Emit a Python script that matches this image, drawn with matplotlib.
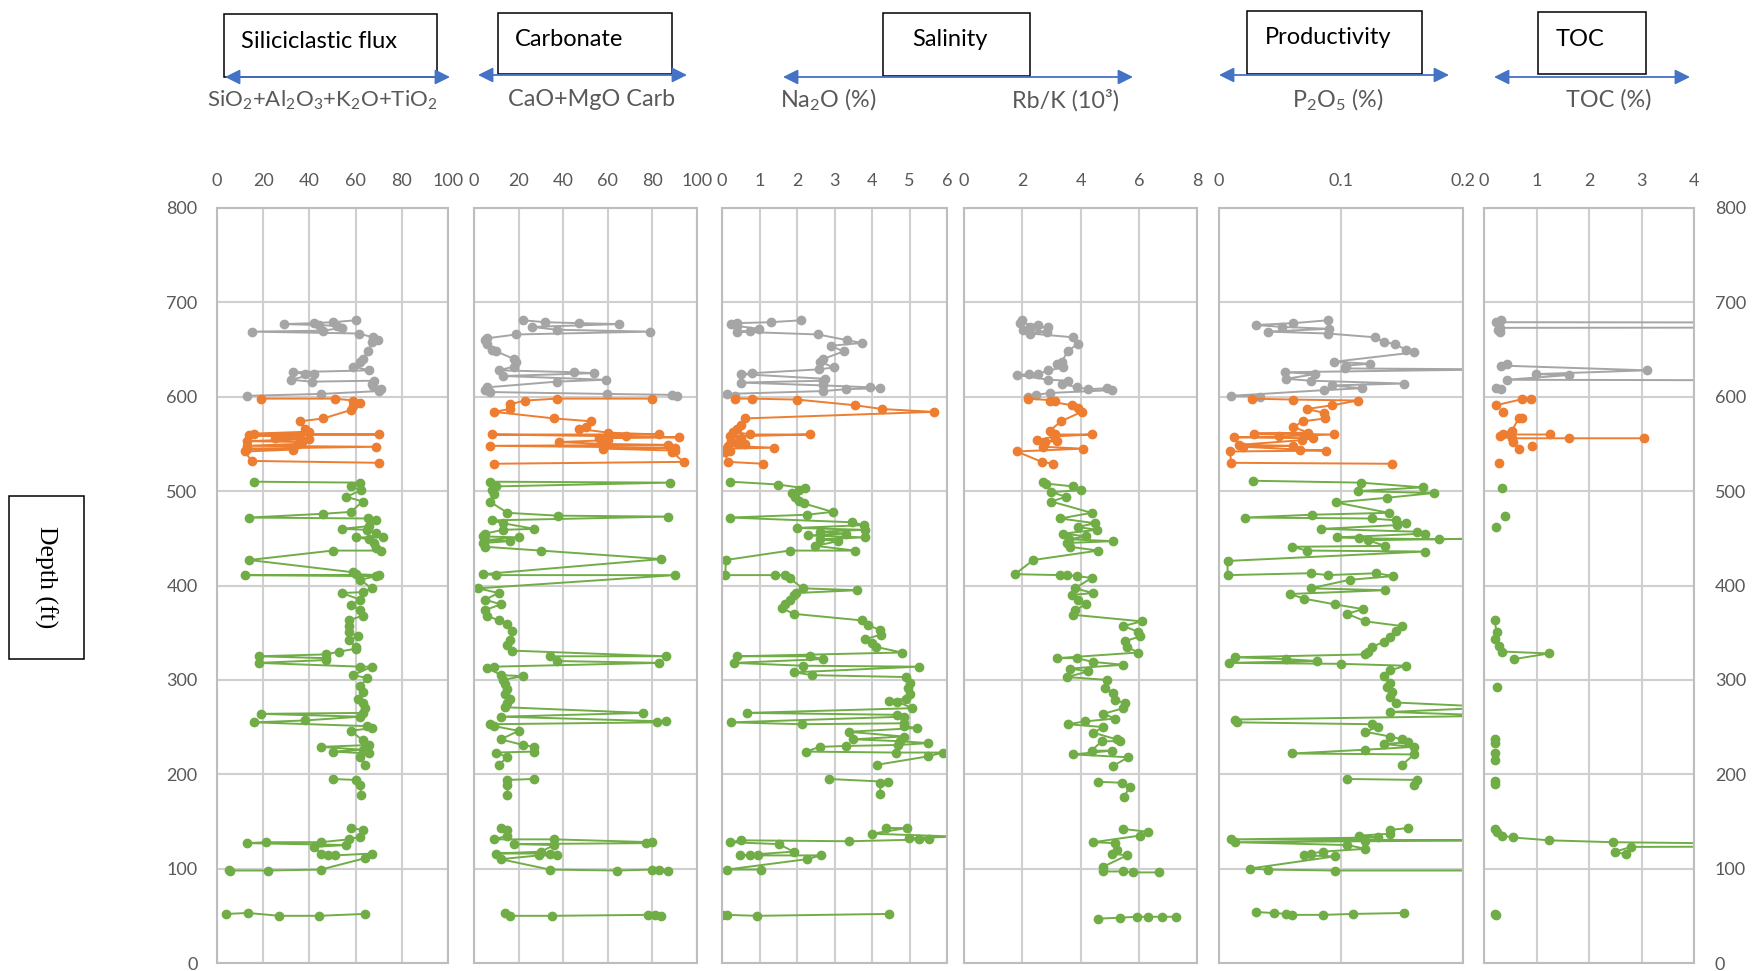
import matplotlib.pyplot as plt
import numpy as np
from matplotlib.patches import Rectangle

plt.rcParams['font.family'] = ['Lato', 'DejaVu Sans']
plt.rcParams['mathtext.fontset'] = 'custom'
plt.rcParams['mathtext.rm'] = 'Lato'

W, H = 1752, 971
GAP = (None, None)

# (depth ft, value) pairs in sample order; GAP breaks the line
sili_gray = [(681, 60), (679, 50), (678, 42), (677, 29), (676, 44), (675, 52), (673, 54), (670, 46), (669, 15),
             (667, 61.5), (663, 67.4), (660, 69.7), (658, 67), (648, 65.5), (640, 63), (637, 62), (632, 59),
             (628, 66), (626, 33), (624, 38), (624, 42), (618, 32), (616, 41), (617, 68), (613, 67), (611, 67.5),
             (608, 71), (606, 70), (603, 45), (601, 13)]
sili_orange = [(598, 19), (598, 51), (596, 59), (593, 62), (590, 59), (586, 58), (577, 46), (574, 36), (566, 38),
               (563, 40), (561, 16), (560, 70), (559, 14), (558, 36), (556, 25), (555, 40), (553, 13), (552, 37),
               (550, 35), (548, 13), (547, 69), (545, 13), (544, 33), (542, 12), (532, 15), (530, 70)]
sili_green = [(510, 16), (509, 62), (505, 58), (501, 62.5), (494, 56), (489, 63), (478, 58), (476, 46), (472, 14),
              (471, 65.5), (469, 69), (463, 66), (460, 54), (459, 65), (456, 69), (451, 72), (451, 60), (449, 66),
              (445, 68), (440, 69), (437, 71), (437, 50), (427, 14), (414, 59), (412, 60), (411, 70), (411, 12),
              (410, 69), (406, 62), (397, 67), (393, 63), (392, 54), (385, 62), (379, 58), (374, 62), (368, 63),
              (363, 57), (357, 57), (351, 57), (346, 61), (342, 57), (335, 60), (333, 60), (330, 53), (327, 47),
              (325, 18), (323, 47), (321, 47), (318, 18), (314, 62), (314, 67), (305, 59), (302, 65), (293, 62),
              (287, 63), (280, 61), (275, 63), (270, 64), (265, 63), (264, 19), (261, 62), (257, 38), (255, 16),
              (251, 65), (249, 67), (246, 58), (236, 63), (231, 66), (229, 45), (226, 63), (224, 50), (222, 66),
              (218, 62), (210, 64), GAP, (195, 50), (194, 60), (189, 62), (178, 62.5), GAP, (143, 58), (141, 63),
              (134, 62), (131, 57), (128, 45), (128, 21), (127, 13), (125, 56), (123, 42), (116, 45), (114, 48),
              (114, 51), (116, 67), (111, 64), (99, 45), (98, 22), (98, 5.6), (99, 5), GAP, (52, 4), (53, 13.5),
              (50, 27), (50, 44), (52, 64)]

carb_gray = [(681, 22), (679, 32), (678, 47), (677, 65), (674, 26), (671, 37), (669, 79), (666, 19), (662, 6),
             (660, 5), (656, 6), (650, 8), (648, 10), (640, 18), (637, 19), (632, 18), (628, 11), (626, 45),
             (625, 54), (622, 13), (618, 59), (616, 37), (610, 6), (607, 5), (605, 7), (603, 59.5), (602, 89),
             (601, 91)]
carb_orange = [(598, 80), (598, 37), (596, 23), (592, 16), (587, 16), (584, 9), (577, 36), (574, 52.5), (568, 50),
               (566, 47), (562, 60), (560, 83), (560, 8), (558, 68), (557, 92), (556, 56), (554, 60), (552, 38),
               (550, 58), (549, 87), (548, 7), (546, 90), (545, 58), (543, 90), (541, 89), (531, 94), (529, 9)]
carb_green = [(510, 7), (509, 88), (505, 10), (501, 8), (497, 9), (489, 7), (477, 15), (474, 37.5), (473, 87),
              (469, 8), (466, 13), (460, 27), (459, 13), (455, 5), (452, 4), (451, 20), (448, 5), (447, 16), (445, 4),
              (441, 5), (437, 30), (428, 84), (412, 4), (411, 10), (411, 90), (397, 2), (392, 11), (385, 5),
              (380, 12), (374, 5), (368, 6), (363, 11), (359, 15), (352, 17), (342, 16), (337, 15), (331, 17),
              (325, 86), (325, 34), (320, 37), (318, 83), (314, 9), (313, 6), (305, 12), (304, 22), (300, 13),
              (296, 14), (290, 15), (285, 14), (280, 16), (275, 15), (271, 14), (265, 76), (261, 12), (256, 86),
              (255, 82), (253, 7), (251, 9), (246, 20), (237, 12), (231, 22), (229, 27), (224, 27), (223, 10),
              (218, 15), (210, 11), GAP, (195, 27), (194, 15), (189, 15), (178, 15), GAP, (143, 12), (141, 15),
              (135, 15), (131, 9), (131, 36), (128, 80), (127, 77), (126, 18), (125, 36), (118, 30), (116, 10),
              (116, 34), (114, 37), (114, 29), (110, 12), (99, 34), (98, 64), (99, 80), (99, 83), (98, 87), GAP,
              (53, 14), (50, 16), (50, 35), (51, 78), (51, 81), (50, 84)]

na_gray = [(681, 2.1), (679, 1.3), (678, 0.4), (677, 0.25), (675, 0.4), (672, 0.98), (670, 0.75), (669, 0.4),
           (666, 2.56), (660, 3.33), (657, 3.73), (654, 2.9), (648, 3.24), (640, 2.7), (637, 2.62), (631, 2.98),
           (629, 2.58), (625, 0.8), (624, 0.5), (619, 2.75), (617, 2.7), (615, 0.5), (612, 2.7), (610, 3.95),
           (609, 4.2), (608, 3.3), (606, 2.7), (603, 0.13), (601, 0.35)]
na_orange = [(598, 0.35), (598, 0.8), (597, 2.0), (591, 3.55), (587, 4.27), (584, 5.64), (577, 0.6), (570, 0.5),
             (566, 0.4), (563, 0.3), (560, 0.75), (560, 2.35), (558, 0.2), (556, 0.5), (553, 0.25), (551, 0.4),
             (550, 0.6), (548, 0.15), (546, 1.38), (545, 0.1), (543, 0.2), (541, 0.08), (531, 0.15), (529, 1.1)]
na_green = [(510, 0.22), (507, 1.5), (503, 2.2), (501, 2.05), (498, 1.87), (494, 1.95), (490, 2.04), (487, 2.18),
            (478, 2.95), (475, 2.27), (472, 0.22), (467, 3.47), (464, 3.78), (461, 2.0), (459, 3.8), (457, 2.6),
            (455, 3.3), (453, 2.3), (451, 3.8), (449, 2.6), (447, 3.1), (442, 2.49), (437, 3.55), (437, 1.8),
            (427, 0.1), (411, 0.09), (411, 1.42), (411, 1.69), (408, 1.8), (397, 2.15), (395, 3.6), (392, 1.96),
            (390, 1.93), (385, 1.8), (380, 1.69), (376, 1.6), (370, 1.91), (363, 3.73), (358, 3.9), (353, 4.2),
            (348, 4.25), (343, 3.8), (339, 4.0), (335, 4.1), (329, 4.8), (325, 0.4), (325, 2.35), (322, 2.7),
            (318, 0.31), (315, 2.15), (314, 5.24), (308, 1.93), (305, 2.4), (303, 4.9), (297, 5.0), (291, 4.95),
            (285, 5.0), (280, 4.9), (278, 4.44), (277, 4.67), (270, 5.07), (265, 0.67), (263, 4.67), (261, 4.84),
            (255, 0.25), (253, 2.13), (254, 4.84), (251, 4.84), (249, 5.2), (245, 3.38), (240, 4.84), (237, 3.5),
            (235, 4.75), (233, 5.5), (231, 4.7), (230, 3.3), (229, 2.6), (224, 2.25), (223, 4.64), (223, 5.89),
            (219, 5.5), (210, 4.13), GAP, (195, 2.84), (192, 4.42), (191, 4.22), (179, 4.22), GAP, (143, 4.37),
            (143, 4.93), (137, 4.0), (134, 6.2), (132, 4.98), (131, 5.26), (131, 5.51), (129, 3.38), (130, 0.51),
            (128, 0.22), (126, 1.51), (118, 1.91), (114, 0.48), (114, 0.75), (114, 0.97), (114, 2.64), (110, 2.26),
            (99, 0.13), (99, 1.04), GAP, (51, 0.0), (51, 0.13), (50, 0.93), (52, 4.44)]

rbk_gray = [(681, 1.98), (678, 1.92), (676, 2.55), (674, 2.27), (674, 2.9), (671, 2.04), (669, 2.86), (667, 2.27),
            (663, 3.75), (656, 3.92), (649, 3.58), (637, 3.35), (635, 3.18), (631, 3.41), (628, 2.9), (624, 2.55),
            (624, 2.24), (623, 1.83), (618, 2.9), (617, 3.58), (614, 3.35), (610, 3.87), (608, 4.27), (609, 4.9),
            (607, 5.07), (604, 2.95), (602, 2.47), (600, 2.2)]
rbk_orange = [(598, 2.21), (596, 3.12), (595, 2.95), (591, 3.7), (588, 3.92), (584, 4.04), (574, 3.33), (564, 2.95),
              (560, 3.12), (560, 4.38), (558, 3.1), (554, 2.52), (553, 3.18), (552, 2.78), (547, 2.72), (545, 4.07),
              (542, 1.81), (531, 2.67), (529, 3.07)]
rbk_green = [(510, 2.72), (508, 2.82), (505, 3.75), (501, 4.0), (499, 3.0), (494, 3.5), (489, 3.0), (477, 4.38),
             (471, 3.3), (466, 4.5), (462, 3.9), (459, 4.56), (455, 3.41), (452, 4.2), (449, 3.6), (447, 5.13),
             (445, 3.53), (441, 3.64), (437, 4.61), (427, 2.38), (412, 1.75), (411, 3.3), (411, 3.53), (410, 3.87),
             (408, 4.38), (397, 3.81), (392, 4.44), (390, 3.7), (385, 3.9), (380, 4.2), (374, 3.8), (369, 3.75),
             (362, 6.1), (357, 5.47), (351, 5.98), (346, 6.04), (341, 5.53), (335, 5.59), (329, 5.98), (323, 3.18),
             (323, 3.87), (319, 4.44), (316, 5.47), (312, 3.64), (309, 4.27), (303, 3.53), (300, 4.9), (291, 4.84),
             (286, 5.13), (279, 5.19), (275, 5.53), (270, 5.47), (264, 4.78), (259, 5.19), (256, 4.15), (253, 3.58),
             (250, 4.78), (244, 4.44), (237, 5.24), (235, 5.36), (235, 4.73), (225, 4.38), (225, 5.07), (221, 3.75),
             (218, 5.64), (209, 5.13), GAP, (192, 4.61), (191, 5.41), (187, 5.7), (176, 5.49), GAP, (142, 5.47),
             (139, 6.33), (135, 6.04), (128, 4.44), (127, 5.19), (120, 5.24), (116, 5.07), (114, 5.59), (102, 4.78),
             (97, 4.76), (97, 5.47), (96, 5.81), (96, 6.71), GAP, (47, 4.61), (48, 5.36), (49, 5.93), (49, 6.33),
             (49, 6.79), (49, 7.28)]

p_gray = [(681, 0.089), (678, 0.061), (676, 0.030), (674, 0.052), (672, 0.09), (669, 0.040), (667, 0.089),
          (663, 0.128), (658, 0.135), (656, 0.144), (650, 0.153), (647, 0.16), (637, 0.094), (635, 0.124),
          (633, 0.104), (630, 0.103), (629, 0.23), (626, 0.054), (624, 0.079), (619, 0.055), (617, 0.075),
          (614, 0.152), (612, 0.093), (609, 0.117), (607, 0.086), (601, 0.010), (600, 0.034)]
p_orange = [(598, 0.027), (597, 0.061), (596, 0.114), (591, 0.093), (587, 0.072), (583, 0.086), (577, 0.087),
            (574, 0.069), (568, 0.061), (562, 0.073), (561, 0.029), (560, 0.094), (558, 0.049), (557, 0.012),
            (556, 0.077), (554, 0.068), (549, 0.016), (548, 0.061), (547, 0.02), (544, 0.066), (543, 0.088),
            (542, 0.009), (530, 0.010), (529, 0.142)]
p_green = [(511, 0.028), (509, 0.116), (504, 0.167), (500, 0.114), (498, 0.176), (493, 0.138), (488, 0.096),
           (477, 0.139), (475, 0.076), (472, 0.021), (471, 0.125), (469, 0.145), (466, 0.153), (464, 0.146),
           (460, 0.084), (457, 0.162), (455, 0.169), (451, 0.097), (450, 0.115), (449, 0.18), (450, 0.23),
           (448, 0.122), (442, 0.136), (441, 0.06), (437, 0.072), (436, 0.169), (426, 0.007), (411, 0.007),
           (413, 0.075), (411, 0.089), (413, 0.129), (410, 0.143), (406, 0.107), (397, 0.075), (395, 0.136),
           (391, 0.058), (386, 0.07), (380, 0.095), (375, 0.118), (370, 0.105), (362, 0.12), (357, 0.15),
           (352, 0.145), (345, 0.14), (340, 0.135), (335, 0.125), (330, 0.122), (327, 0.12), (324, 0.013),
           (322, 0.055), (320, 0.08), (318, 0.008), (317, 0.1), (315, 0.153), (310, 0.14), (304, 0.135),
           (297, 0.14), (292, 0.138), (287, 0.142), (282, 0.14), (276, 0.145), (271, 0.23), (266, 0.14),
           (262, 0.23), (258, 0.013), (255, 0.015), (253, 0.125), (250, 0.13), (245, 0.12), (240, 0.14),
           (237, 0.15), (234, 0.155), (232, 0.135), (229, 0.16), (226, 0.12), (222, 0.06), (221, 0.16),
           (210, 0.15), GAP, (195, 0.105), (194, 0.162), (189, 0.16), GAP, (143, 0.155), (141, 0.14),
           (137, 0.14), (135, 0.115), (133, 0.13), (131, 0.01), (130, 0.23), (129, 0.12), (128, 0.013),
           (125, 0.105), (121, 0.12), (118, 0.085), (116, 0.075), (114, 0.07), (113, 0.095), (100, 0.025),
           (99, 0.04), (98, 0.095), (98, 0.23), GAP, (54, 0.03), (53, 0.045), (52, 0.055), (51, 0.06),
           (51, 0.085), (52, 0.11), (53, 0.152)]

toc_gray = [(681, 0.33), (679, 0.23), (678.5, 9), (673.5, 9), (673, 0.3), (671, 0.26), (669, 0.31), GAP,
            (635, 0.43), (633, 0.33), (628, 3.1), (624, 0.99), (623, 1.62), (618, 0.43), (617, 9), GAP,
            (609, 0.23), (608, 0.33)]
toc_orange = [(598, 0.89), (597.5, 0.73), (591, 0.23), GAP, (584, 0.36), GAP, (578, 0.73), (577, 0.66),
              (564, 0.53), (560, 0.5), (560, 1.26), GAP, (561, 0.36), (558, 0.3), (556, 0.53), (556, 1.62),
              (556, 3.05), GAP, (552, 0.55), GAP, (548, 0.92), GAP, (545, 0.66), GAP, (530, 0.28)]
toc_green = [(503, 0.35), GAP, (474, 0.4), GAP, (462, 0.22), GAP, (363, 0.2), (351, 0.24), (343, 0.2),
             (336, 0.29), (330, 0.35), (328, 1.24), (322, 0.57), GAP, (292, 0.24), GAP, (237, 0.2), (233, 0.2),
             GAP, (222, 0.2), (215, 0.2), GAP, (193, 0.2), (190, 0.2), GAP, (142, 0.2), (139, 0.25),
             (135, 0.35), (133, 0.55), (130, 1.24), (128, 2.45), (124, 9), (123, 2.8), (118, 2.5), (115, 2.7),
             GAP, (52, 0.2), (51, 0.22)]

series_colors = ['#A5A5A5', '#ED7D31', '#70AD47']
depth_ticks = list(range(0, 801, 100))

# left/right pixel edge, x range, tick values, tick labels, series
panels = [
    (217, 448, (0, 100), [0, 20, 40, 60, 80, 100], ['0', '20', '40', '60', '80', '100'],
     [sili_gray, sili_orange, sili_green]),
    (474, 697, (0, 100), [0, 20, 40, 60, 80, 100], ['0', '20', '40', '60', '80', '100'],
     [carb_gray, carb_orange, carb_green]),
    (722, 947, (0, 6), [0, 1, 2, 3, 4, 5, 6], ['0', '1', '2', '3', '4', '5', '6'],
     [na_gray, na_orange, na_green]),
    (964, 1197, (0, 8), [0, 2, 4, 6, 8], ['0', '2', '4', '6', '8'],
     [rbk_gray, rbk_orange, rbk_green]),
    (1219, 1463, (0, 0.2), [0, 0.1, 0.2], ['0', '0.1', '0.2'],
     [p_gray, p_orange, p_green]),
    (1484, 1694, (0, 4), [0, 1, 2, 3, 4], ['0', '1', '2', '3', '4'],
     [toc_gray, toc_orange, toc_green]),
]

TOP, BOTTOM = 208, 963

fig = plt.figure(figsize=(W / 100, H / 100), dpi=100)

for i, (x0, x1, xr, ticks, labels, series) in enumerate(panels):
    ax = fig.add_axes([x0 / W, 1 - BOTTOM / H, (x1 - x0) / W, (BOTTOM - TOP) / H])
    ax.set_xlim(*xr)
    ax.set_ylim(0, 800)
    ax.set_xticks(ticks)
    ax.set_xticklabels(labels)
    ax.xaxis.tick_top()
    ax.set_yticks(depth_ticks)
    ax.grid(True, color='#CFCFCF', lw=1.5)
    ax.set_axisbelow(True)
    for sp in ax.spines.values():
        sp.set_color('#BDBDBD')
        sp.set_linewidth(1.5)
    ax.tick_params(axis='x', length=0, labelsize=13, labelcolor='#595959', pad=14)
    if i == 0:
        ax.tick_params(axis='y', length=0, labelsize=13, labelcolor='#595959', pad=14)
    elif i == len(panels) - 1:
        ax.yaxis.tick_right()
        ax.tick_params(axis='y', length=0, labelsize=13, labelcolor='#595959', pad=15)
    else:
        ax.tick_params(axis='y', length=0, labelleft=False)
    for data, col in zip(series, series_colors):
        arr = np.array(data, dtype=float)
        ax.plot(arr[:, 1], arr[:, 0], '-o', color=col, lw=1.4, ms=6, mec=col)

# header boxes, arrows and axis captions in pixel coordinates
ov = fig.add_axes([0, 0, 1, 1], facecolor='none')
ov.set_xlim(0, W)
ov.set_ylim(H, 0)
ov.axis('off')

boxes = [
    ((224, 14, 437, 77), 'Siliciclastic flux', 241, 'left'),
    ((498, 13, 672, 74), 'Carbonate', 515, 'left'),
    ((883, 13, 1030, 76), 'Salinity', 950, 'center'),
    ((1247, 11, 1422, 74), 'Productivity', 1265, 'left'),
    ((1538, 12, 1646, 74), 'TOC', 1556, 'left'),
]
for (bx0, by0, bx1, by1), txt, tx, ha in boxes:
    ov.add_patch(Rectangle((bx0, by0), bx1 - bx0, by1 - by0, fill=False, ec='black', lw=1.1))
    ov.text(tx, by0 + 27, txt, ha=ha, va='center', fontsize=17, color='black')

arrows = [(225, 450, 77), (478, 687, 75), (783, 1133, 77), (1219, 1449, 75), (1494, 1690, 77)]
for ax0, ax1, ay in arrows:
    ov.annotate('', xy=(ax0, ay), xytext=(ax1, ay),
                arrowprops=dict(arrowstyle='<|-|>,head_length=0.5,head_width=0.25', color='#4472C4',
                                lw=1.3, mutation_scale=18, shrinkA=0, shrinkB=0))

captions = [
    (322, r'SiO$_\mathregular{2}$+Al$_\mathregular{2}$O$_\mathregular{3}$+K$_\mathregular{2}$O+TiO$_\mathregular{2}$', 16),
    (592, 'CaO+MgO Carb', 16.8),
    (828, r'Na$_\mathregular{2}$O (%)', 16.8),
    (1065, 'Rb/K (10³)', 16.8),
    (1338, r'P$_\mathregular{2}$O$_\mathregular{5}$ (%)', 16.8),
    (1609, 'TOC (%)', 16.8),
]
for cx, txt, fs in captions:
    ov.text(cx, 100, txt, ha='center', va='center', fontsize=fs, color='#595959')

ov.add_patch(Rectangle((9, 496), 75, 163, fill=False, ec='black', lw=1.1))
ov.text(46, 577, 'Depth (ft)', rotation=270, ha='center', va='center', fontsize=18.5,
        family=['Liberation Serif', 'DejaVu Serif'])

fig.savefig('out.png', dpi=100)
